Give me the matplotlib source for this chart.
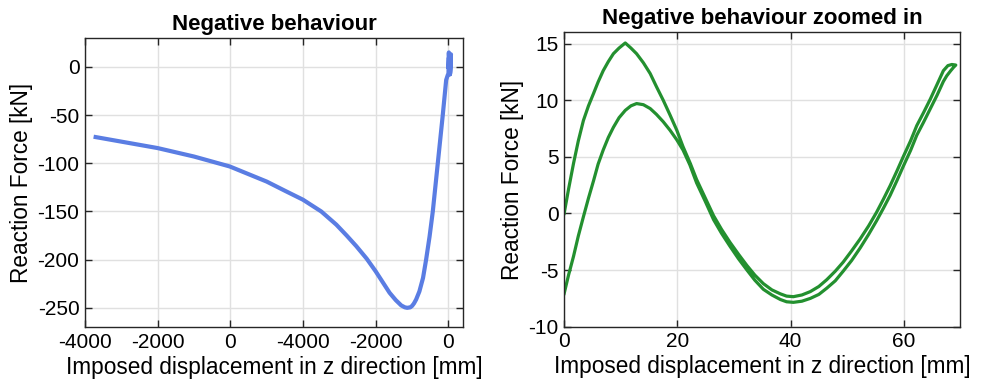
import matplotlib
matplotlib.use("Agg")
import matplotlib.pyplot as plt

plt.rcParams['font.family'] = ['Liberation Sans', 'DejaVu Sans']
plt.rcParams['axes.unicode_minus'] = False

# cyclic part: loading branch (0 -> 69 mm)
fwd_x = [0, 0.8, 1.65, 2.5, 3.4, 4.3, 5.2, 6, 6.9, 7.8, 8.7, 9.7, 10.8, 11.8, 12.8, 14, 15.2,
         16.3, 17.5, 18.7, 19.9, 21, 22.3, 23.4, 24.9, 26.4, 27.8, 29.3, 30.8, 32.3, 33.7, 35.2,
         36.7, 38.2, 39.3, 40.5, 42, 43.5, 45, 46.4, 47.9, 49.3, 50.8, 52.3, 53.8, 55.2, 56.4,
         57.6, 58.8, 60, 61.2, 62.3, 63.5, 64.7, 65.9, 67, 67.8, 68.5, 69.2]
fwd_y = [0, 2.2, 4.4, 6.4, 8.2, 9.5, 10.6, 11.6, 12.6, 13.4, 14.1, 14.6, 15.05, 14.6, 14.1,
         13.3, 12.35, 11.2, 10.0, 8.7, 7.35, 5.9, 4.4, 3.0, 1.4, -0.2, -1.4, -2.55, -3.6, -4.6,
         -5.45, -6.2, -6.75, -7.1, -7.3, -7.35, -7.2, -6.9, -6.45, -5.85, -5.1, -4.3, -3.3, -2.25,
         -1.1, 0.1, 1.25, 2.45, 3.75, 5.1, 6.4, 7.75, 8.9, 10.1, 11.4, 12.6, 13.05, 13.15, 13.1]

# cyclic part: unloading branch (69 -> 0 mm)
bwd_x = [69.2, 68.8, 68.3, 67.6, 67, 65.9, 64.7, 63.5, 62.3, 61.2, 60, 58.8, 57.6, 56.4, 55.2,
         53.8, 52.3, 50.8, 49.3, 47.9, 46.4, 45, 43.5, 42, 40.5, 39.3, 38.2, 36.7, 35.2, 33.7,
         32.3, 30.8, 29.3, 27.8, 26.4, 24.9, 23.4, 22.2, 21, 19.9, 18.7, 17.5, 16.3, 15.2, 14,
         12.8, 11.8, 10.8, 9.7, 8.7, 7.8, 6.9, 6, 5.2, 4.3, 3.4, 2.5, 1.65, 0.8, 0]
bwd_y = [13.1, 12.9, 12.6, 12.15, 11.65, 10.45, 9.25, 8.05, 6.9, 5.55, 4.25, 2.9, 1.6, 0.45, -0.65,
         -1.85, -3.05, -4.15, -5.1, -5.95, -6.6, -7.15, -7.5, -7.75, -7.85, -7.8, -7.6, -7.2, -6.7,
         -5.9, -5.0, -4.0, -2.9, -1.75, -0.55, 1.1, 2.7, 4.3, 5.6, 6.5, 7.35, 8.1, 8.75, 9.26,
         9.6, 9.7, 9.5, 9.1, 8.45, 7.6, 6.7, 5.6, 4.35, 2.9, 1.35, -0.3, -2.0, -3.8, -5.4, -7.07]

# large negative displacement
neg_x = [0, -20, -63, -100, -157, -225, -294, -360, -431, -520, -615, -700, -800, -890, -950,
         -1000, -1050, -1135, -1200, -1300, -1450, -1620, -1800, -2005, -2250, -2536, -2800,
         -3085, -3500, -4003, -4500, -5000, -6017, -7000, -8003, -9000, -9706]
neg_y = [-7.07, -8.5, -13.5, -28, -50, -75, -100, -125, -150, -176, -200, -219, -233, -241.4,
         -245.5, -248, -249.5, -250, -249.5, -247.5, -242, -234.4, -224, -212, -199, -186, -175,
         -163.7, -150, -137.8, -128.5, -119, -103.3, -93, -84.2, -77.5, -72.8]

left_xticks = [-10000, -8000, -6000, -4000, -2000, 0]
left_xticklabels = ['-4000', '-2000', '0', '-4000', '-2000', '0']
left_yticks = [-250, -200, -150, -100, -50, 0]
right_xticks = [0, 20, 40, 60]
right_yticks = [-10, -5, 0, 5, 10, 15]

blue = '#5a7de3'
green = '#23902f'

all_x = fwd_x + bwd_x + neg_x
all_y = fwd_y + bwd_y + neg_y
cyc_x = fwd_x + bwd_x
cyc_y = fwd_y + bwd_y

fig = plt.figure(figsize=(9.88, 3.88), dpi=100)
ax1 = fig.add_axes([0.086, 0.157, 0.383, 0.745])
ax2 = fig.add_axes([0.571, 0.158, 0.401, 0.759])


def style(ax):
    ax.grid(True, color='#e0e0e0', linewidth=1.0)
    ax.set_axisbelow(True)
    for s in ax.spines.values():
        s.set_color('#262626')
        s.set_linewidth(1.0)
    ax.tick_params(direction='in', top=True, right=True, length=5, width=1.0,
                   color='#262626', labelsize=15, labelcolor='black', pad=4)
    ax.set_xlabel('Imposed displacement in z direction [mm]', fontsize=16.3, labelpad=3)
    ax.set_ylabel('Reaction Force [kN]', fontsize=16.3, labelpad=3)


ax1.plot(all_x, all_y, color=blue, linewidth=3.0, solid_joinstyle='round')
ax1.set_xlim(-10000, 410)
ax1.set_ylim(-270, 30)
ax1.set_xticks(left_xticks)
ax1.set_xticklabels(left_xticklabels)
ax1.set_yticks(left_yticks)
ax1.set_title('Negative behaviour', fontsize=16, fontweight='bold', pad=6)
style(ax1)

ax2.plot(cyc_x, cyc_y, color=green, linewidth=2.3, solid_joinstyle='round')
ax2.set_xlim(0, 70)
ax2.set_ylim(-10, 16)
ax2.set_xticks(right_xticks)
ax2.set_yticks(right_yticks)
ax2.set_title('Negative behaviour zoomed in', fontsize=16, fontweight='bold', pad=6)
style(ax2)

fig.savefig('out.png', dpi=100)
